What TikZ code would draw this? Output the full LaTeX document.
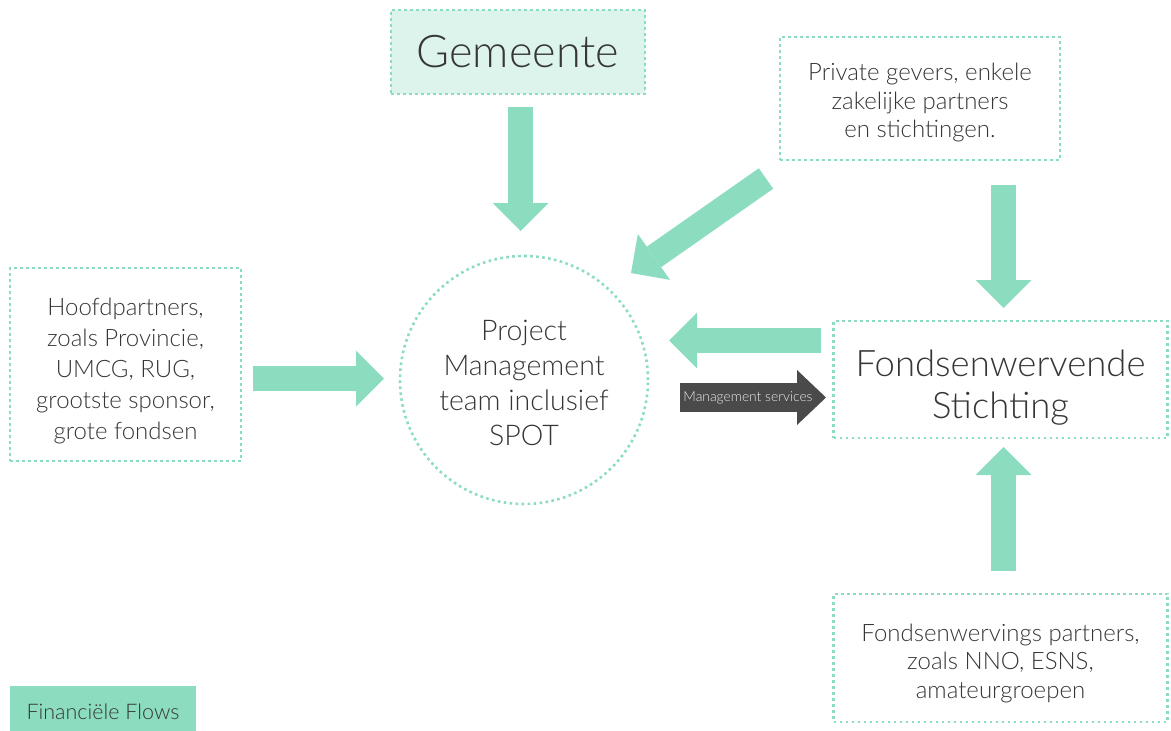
\documentclass[tikz,border=0pt]{standalone}
\usepackage{fontspec}
\setmainfont{Lato Light}
\usetikzlibrary{arrows.meta}
\definecolor{mint}{HTML}{8CDCC0}
\definecolor{mintlight}{HTML}{DDF4EC}
\definecolor{txt}{HTML}{363636}
\definecolor{darkarr}{HTML}{4A4A4A}
\newcommand{\lowered}[2]{\raisebox{-#1}[\height][\depth]{\begin{tabular}{@{}c@{}}#2\end{tabular}}}
\begin{document}
\begin{tikzpicture}[x=1pt,y=-1pt,
  dotbox/.style={draw=mint, line width=2.6pt, dash pattern=on 2.6pt off 3.4pt,
    text=txt, align=center, inner sep=0pt, rectangle},
  dotcircle/.style={dotbox, circle},
  bodytext/.style={font=\fontsize{24}{28.5}\selectfont},
  flow/.style={draw=mint, line width=25pt, line cap=butt,
    -{Triangle[width=56pt,length=28pt,line width=0pt]}},
  msflow/.style={draw=darkarr, line width=29pt, line cap=butt,
    -{Triangle[width=55pt,length=29pt,line width=0pt]}},
  legend/.style={fill=mint, text=txt, inner sep=0pt, font=\fontsize{21.5}{24}\selectfont}
]
\useasboundingbox (0,0) rectangle (1171,731);

\node[dotbox, fill=mintlight, minimum width=254pt, minimum height=84pt,
  font=\fontsize{45}{50}\selectfont] (gem) at (518,52) {\lowered{5pt}{Gemeente}};

\node[dotbox, bodytext, minimum width=280pt, minimum height=123pt] (priv) at (920,98.5)
  {\lowered{5pt}{Private gevers, enkele\\zakelijke partners\\en stichtingen.}};

\node[dotbox, minimum width=231pt, minimum height=193pt,
  font=\fontsize{24}{31}\selectfont] (hoof) at (125.5,364.5)
  {\lowered{7pt}{Hoofdpartners,\\zoals Provincie,\\UMCG, RUG,\\grootste sponsor,\\grote fondsen}};

\node[dotcircle, minimum size=248pt, font=\fontsize{28.5}{35}\selectfont] (pm) at (524,380)
  {\lowered{6pt}{Project\\Management\\team inclusief\\SPOT}};

\node[dotbox, minimum width=334pt, minimum height=117pt,
  font=\fontsize{36.5}{42}\selectfont] (fonds) at (1000.5,379.5)
  {\lowered{10pt}{Fondsenwervende\\Stichting}};

\node[dotbox, bodytext, minimum width=334pt, minimum height=128pt] (fw) at (1000.5,658)
  {\lowered{6pt}{Fondsenwervings partners,\\zoals NNO, ESNS,\\amateurgroepen}};

\node[legend, minimum width=186pt, minimum height=46pt] (leg) at (103,709)
  {\lowered{6pt}{Financiële Flows}};

% arrow end points
\coordinate (g1) at (520.5,107);  \coordinate (g2) at (520.5,231);
\coordinate (p1) at (766,178.5);  \coordinate (p2) at (631,273);
\coordinate (r1) at (1003.5,185); \coordinate (r2) at (1003.5,308);
\coordinate (h1) at (253,378.5);  \coordinate (h2) at (384,378.5);
\coordinate (f1) at (821,340.5);  \coordinate (f2) at (669,340.5);
\coordinate (u1) at (1003.5,571); \coordinate (u2) at (1003.5,447);
\coordinate (m1) at (680,397.5);  \coordinate (m2) at (826,397.5);

\draw[flow] (g1) -- (g2);
\draw[flow] (p1) -- (p2);
\draw[flow] (r1) -- (r2);
\draw[flow] (h1) -- (h2);
\draw[flow] (f1) -- (f2);
\draw[flow] (u1) -- (u2);
\draw[msflow] (m1) -- (m2);
\node[text=white!85!gray, font=\fontsize{13.8}{15}\selectfont, inner sep=0pt] (mslabel) at (748,398)
  {Management services};
\end{tikzpicture}
\end{document}
